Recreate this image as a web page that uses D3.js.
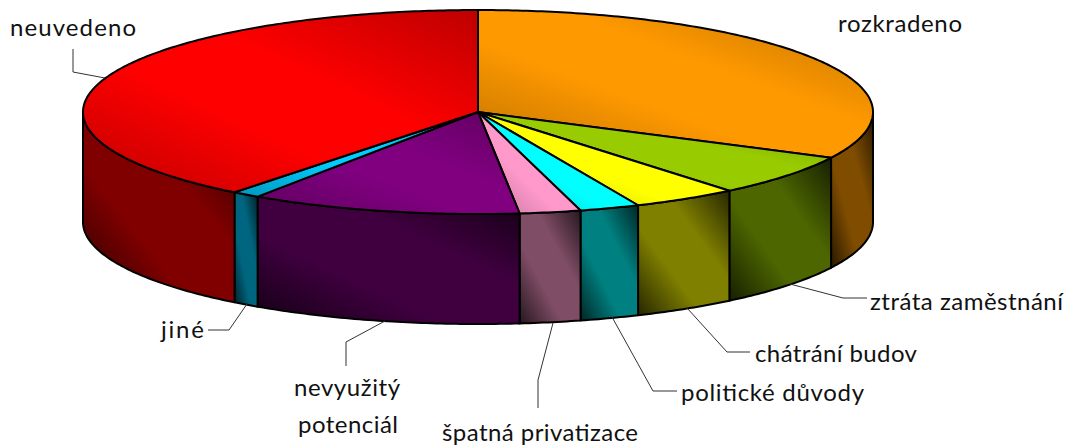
<!DOCTYPE html>
<html>
<head>
<meta charset="utf-8">
<script src="https://cdn.jsdelivr.net/npm/d3@7"></script>
<style>
body { margin: 0; background: #fff; }
svg { display: block; }
text { font-family: Lato, "Open Sans", sans-serif; font-size: 24px; fill: #111; }
</style>
</head>
<body>
<div id="chart"></div>
<script>
// 3D pie, clockwise from 12 o'clock
const categories = ["rozkradeno", "ztráta zaměstnání", "chátrání budov", "politické důvody", "špatná privatizace", "nevyužitý potenciál", "jiné", "neuvedeno"];
const shares = [32.4, 6.62, 4.34, 2.46, 2.5, 11.1, 1.15, 39.43];
const topColors = ["#FF9900", "#99CC00", "#FFFF00", "#00FFFF", "#FF99CC", "#800080", "#00CCFF", "#FF0000"];

const width = 1074;
const height = 446;
const cx = 478, cy = 112, rx = 395, ry = 102, depth = 110;

// label text + where it sits, lines = leader polyline
const labelLayout = [
    { lines: [[838, 32, 124, "rozkradeno"]], leader: [] },
    { lines: [[870, 310, 193, "ztráta zaměstnání"]], leader: [[790, 284], [843, 298], [867, 298]] },
    { lines: [[755, 362, 162, "chátrání budov"]], leader: [[687, 308], [727, 352], [750, 352]] },
    { lines: [[681, 401, 183, "politické důvody"]], leader: [[612, 317], [653, 391], [677, 391]] },
    { lines: [[442, 441, 196, "špatná privatizace"]], leader: [[553, 323], [538, 380], [538, 408]] },
    { lines: [[294, 396, 106, "nevyužitý"], [298, 433, 100, "potenciál"]], leader: [[385, 321], [346, 342], [346, 366]] },
    { lines: [[161, 338, 43, "jiné"]], leader: [[247, 304], [229, 330], [208, 330]] },
    { lines: [[10, 36, 126, "neuvedeno"]], leader: [[73, 49], [73, 72], [105, 78]] }
];

const svg = d3.select("#chart").append("svg")
    .attr("width", width)
    .attr("height", height);
const defs = svg.append("defs");

const pie = d3.pie().sort(null);
const arcs = pie(shares);

// unit circle -> screen
const xScale = d3.scaleLinear().domain([-1, 1]).range([cx - rx, cx + rx]);
const yScale = d3.scaleLinear().domain([-1, 1]).range([cy - ry, cy + ry]);
const line = d3.line();
const rimPoint = (a, dy) => [xScale(Math.sin(a)), yScale(-Math.cos(a)) + dy];

function angles(a0, a1) {
    const n = Math.max(2, Math.ceil((a1 - a0) * 80));
    return d3.range(n + 1).map(i => a0 + (a1 - a0) * i / n);
}

// dark on the bottom-left and top-right of each face, like the office bevel
function addGradient(id, color, edge, band) {
    const base = d3.rgb(color);
    const dark = d3.rgb(base.r * edge, base.g * edge, base.b * edge);
    const g = defs.append("linearGradient").attr("id", id)
        .attr("x1", 0).attr("y1", 1).attr("x2", 1).attr("y2", 0);
    [[0, dark], [band, base], [1 - band, base], [1, dark]].forEach(s => {
        g.append("stop").attr("offset", s[0]).attr("stop-color", s[1].formatHex());
    });
}

// walls, only the part of each slice facing front
const walls = svg.append("g");
arcs.forEach((d, i) => {
    const a0 = Math.max(d.startAngle, Math.PI / 2);
    const a1 = Math.min(d.endAngle, Math.PI * 1.5);
    if (a1 <= a0) return;
    const wallColor = d3.rgb(topColors[i]);
    addGradient("wall" + i, d3.rgb(wallColor.r / 2, wallColor.g / 2, wallColor.b / 2), 0.3, 0.36);
    const upper = angles(a0, a1).map(a => rimPoint(a, 0));
    const lower = angles(a0, a1).reverse().map(a => rimPoint(a, depth));
    walls.append("path")
        .attr("d", line(upper.concat(lower)) + "Z")
        .attr("fill", "url(#wall" + i + ")")
        .attr("stroke", "#000")
        .attr("stroke-width", 2)
        .attr("stroke-linejoin", "round");
});

// top faces
const tops = svg.append("g");
arcs.forEach((d, i) => {
    addGradient("top" + i, topColors[i], 0.74, 0.4);
    const rim = angles(d.startAngle, d.endAngle).map(a => rimPoint(a, 0));
    tops.append("path")
        .attr("d", line([[cx, cy]].concat(rim)) + "Z")
        .attr("fill", "url(#top" + i + ")")
        .attr("stroke", "#000")
        .attr("stroke-width", 2)
        .attr("stroke-linejoin", "round");
});

// leader lines and labels
const labels = svg.append("g");
labelLayout.forEach((l, i) => {
    if (l.leader.length) {
        labels.append("path")
            .attr("d", line(l.leader))
            .attr("fill", "none")
            .attr("stroke", "#333")
            .attr("stroke-width", 1);
    }
    l.lines.forEach(t => {
        labels.append("text")
            .attr("x", t[0])
            .attr("y", t[1])
            .attr("textLength", t[2])
            .attr("lengthAdjust", "spacing")
            .text(t[3]);
    });
});
</script>
</body>
</html>
